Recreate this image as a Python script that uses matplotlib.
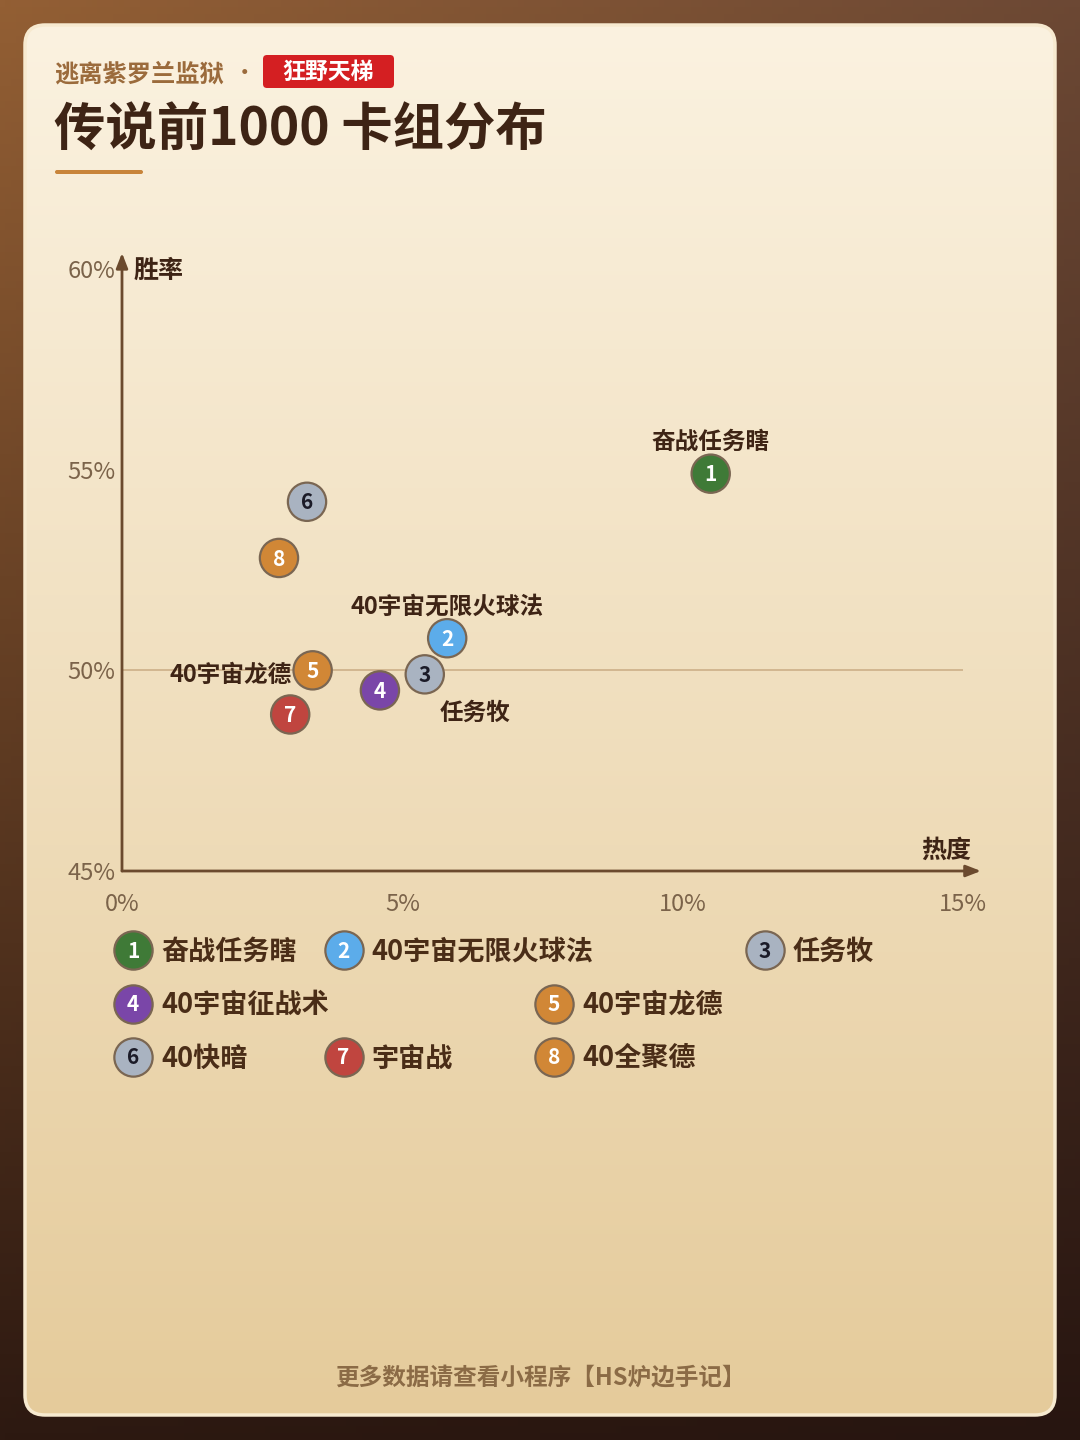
import numpy as np
import matplotlib
matplotlib.use("Agg")
import matplotlib.pyplot as plt
from matplotlib.patches import FancyBboxPatch
from matplotlib.colors import to_rgb

plt.rcParams['font.family'] = ['Noto Sans CJK SC', 'DejaVu Sans']

# 数据
deck_names = ['奋战任务瞎', '40宇宙无限火球法', '任务牧', '40宇宙征战术',
              '40宇宙龙德', '40快暗', '宇宙战', '40全聚德']
popularity = [10.5, 5.8, 5.4, 4.6, 3.4, 3.3, 3.0, 2.8]      # 热度 %
win_rate = [54.9, 50.8, 49.9, 49.5, 50.0, 54.2, 48.9, 52.8]  # 胜率 %
deck_colors = ['#3f7a37', '#5cacea', '#a9b3c1', '#7a46a8',
               '#d18736', '#a9b3c1', '#c0453f', '#d18736']
x_ticks = [0, 5, 10, 15]
y_ticks = [45, 50, 55, 60]

# 哪些点要标名字, 标在哪边
labeled = {0: 'top', 1: 'top', 2: 'bottom_right', 4: 'left'}
# 图例排版: (行, 列槽)
legend_slots = [(0, 0), (0, 1), (0, 3), (1, 0), (1, 2), (2, 0), (2, 1), (2, 2)]

W, H = 1080, 1440
DARK = '#3e2415'
fig = plt.figure(figsize=(W / 100, H / 100), dpi=100)

bg = fig.add_axes([0, 0, 1, 1])
bg.set_xlim(0, W)
bg.set_ylim(H, 0)
bg.axis('off')


def corner_gradient(tl, tr, bl, br, n=200):
    tl, tr, bl, br = [np.array(to_rgb(c)) for c in (tl, tr, bl, br)]
    u = np.linspace(0, 1, n)[None, :, None]
    v = np.linspace(0, 1, n)[:, None, None]
    top = tl * (1 - u) + tr * u
    bot = bl * (1 - u) + br * u
    return top * (1 - v) + bot * v


bg.imshow(corner_gradient('#935f34', '#6c4834', '#2d1911', '#271510'),
          extent=(0, W, H, 0), aspect='auto', zorder=0)

# 卡片
card = FancyBboxPatch((25, 25), 1030, 1390, boxstyle='round,pad=0,rounding_size=20',
                      facecolor='none', edgecolor='#f7ead0', linewidth=2.5, zorder=2)
bg.add_patch(card)
top_c = np.array(to_rgb('#fbf2e0'))
bot_c = np.array(to_rgb('#e5cb9b'))
t = np.linspace(0, 1, 300)[:, None, None]
card_grad = np.repeat(top_c * (1 - t) + bot_c * t, 2, axis=1)
im = bg.imshow(card_grad, extent=(25, 1055, 1415, 25), aspect='auto', zorder=1)
im.set_clip_path(card)

# 标题区
bg.text(54, 74, '逃离紫罗兰监狱', fontsize=17.5, fontweight='bold', color='#9b6b3c',
        ha='left', va='center', zorder=5)
bg.text(244, 73, '•', fontsize=17, color='#9b6b3c', ha='center', va='center', zorder=5)
bg.add_patch(FancyBboxPatch((263, 55), 131, 33, boxstyle='round,pad=0,rounding_size=4',
                            facecolor='#d41f22', edgecolor='none', zorder=4))
bg.text(328.5, 72.5, '狂野天梯', fontsize=16.5, fontweight='bold', color='white',
        ha='center', va='center', zorder=5)
bg.text(54, 130, '传说前1000 卡组分布', fontsize=37, fontweight='bold', color=DARK,
        ha='left', va='center', zorder=5)
bg.add_patch(FancyBboxPatch((55, 170), 88, 4, boxstyle='round,pad=0,rounding_size=2',
                            facecolor='#c8843a', edgecolor='none', zorder=4))

# 散点图
ax = fig.add_axes([122 / W, 1 - 871 / H, 841 / W, 602 / H])
ax.set_facecolor('none')
ax.set_xlim(0, 15)
ax.set_ylim(45, 60)
for s in ax.spines.values():
    s.set_visible(False)
ax.set_xticks(x_ticks)
ax.set_xticklabels([f'{v}%' for v in x_ticks])
ax.set_yticks(y_ticks)
ax.set_yticklabels([f'{v}%' for v in y_ticks])
ax.tick_params(length=0, labelsize=17, labelcolor='#7b634a')
ax.tick_params(axis='x', pad=16)
ax.tick_params(axis='y', pad=5)
for lab in ax.get_xticklabels() + ax.get_yticklabels():
    lab.set_fontweight('light')

axis_col = '#6b4a2e'
ax.annotate('', xy=(15.32, 45), xytext=(0, 45), annotation_clip=False,
            arrowprops=dict(arrowstyle='-|>,head_length=0.9,head_width=0.35',
                            color=axis_col, lw=2, shrinkA=0, shrinkB=0))
ax.annotate('', xy=(0, 60.4), xytext=(0, 45), annotation_clip=False,
            arrowprops=dict(arrowstyle='-|>,head_length=0.9,head_width=0.35',
                            color=axis_col, lw=2, shrinkA=0, shrinkB=0))
ax.plot([0, 15], [50, 50], color='#cdb088', lw=1.2, zorder=1)

ax.text(0.2, 59.95, '胜率', fontsize=18, fontweight='bold', color=DARK,
        ha='left', va='center', clip_on=False)
ax.text(15.15, 45.5, '热度', fontsize=18, fontweight='bold', color=DARK,
        ha='right', va='center', clip_on=False)

text_col = ['#1b1b28' if c == '#a9b3c1' else 'white' for c in deck_colors]
ax.scatter(popularity, win_rate, s=760, c=deck_colors, edgecolors='#7a6652',
           linewidths=1.6, zorder=3, clip_on=False)
for i, (x, y) in enumerate(zip(popularity, win_rate)):
    ax.text(x, y - 0.03, str(i + 1), fontsize=15, fontweight='bold', color=text_col[i],
            ha='center', va='center', zorder=4)

for i, where in labeled.items():
    if where == 'top':
        off, ha = (0, 23), 'center'
    elif where == 'left':
        off, ha = (-15, -3), 'right'
    else:
        off, ha = (11, -28), 'left'
    ax.annotate(deck_names[i], (popularity[i], win_rate[i]), xytext=off,
                textcoords='offset points', ha=ha, va='center', fontsize=17,
                fontweight='bold', color=DARK, zorder=5)

# 图例
slot_x0, slot_w = 133, 210.5
row_y0, row_h = 950, 53.5
for i, (r, c) in enumerate(legend_slots):
    cx = slot_x0 + c * slot_w
    cy = row_y0 + r * row_h
    bg.scatter([cx], [cy], s=760, c=[deck_colors[i]], edgecolors='#7a6652',
               linewidths=1.6, zorder=5)
    bg.text(cx, cy + 1, str(i + 1), fontsize=15, fontweight='bold', color=text_col[i],
            ha='center', va='center', zorder=6)
    bg.text(cx + 28, cy + 1.5, deck_names[i], fontsize=19.5, fontweight='bold',
            color='#4a2d17', ha='left', va='center', zorder=6)

bg.text(540, 1378, '更多数据请查看小程序【HS炉边手记】', fontsize=17, fontweight='bold',
        color='#8b6b46', ha='center', va='center', zorder=5)

fig.savefig('out.png', dpi=100)
